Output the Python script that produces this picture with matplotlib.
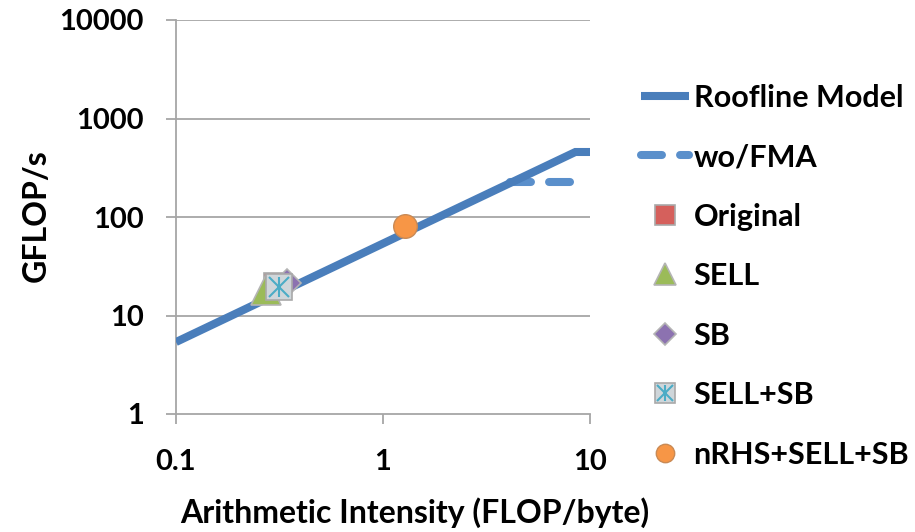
import matplotlib.pyplot as plt
from matplotlib.legend_handler import HandlerTuple

plt.rcParams['font.family'] = ['Lato', 'DejaVu Sans']
plt.rcParams['font.weight'] = 'bold'

# roofline data
roof_x = [0.1, 8.5, 10]
roof_y = [5.38, 457, 457]
nofma_x = [4.11, 8.0]
nofma_y = [226, 226]

# measured kernels
names = ['Original', 'SELL', 'SB', 'SELL+SB', 'nRHS+SELL+SB']
ai = [0.307, 0.272, 0.343, 0.3145, 1.276]
gflops = [19.9, 18.2, 21.4, 19.5, 81]

xticks = [0.1, 1, 10]
xticklabels = ['0.1', '1', '10']
yticks = [1, 10, 100, 1000, 10000]
yticklabels = ['1', '10', '100', '1000', '10000']

fig = plt.figure(figsize=(9.15, 5.32), dpi=100)
ax = fig.add_axes([176 / 915, 118 / 532, 414 / 915, 394 / 532])

ax.set_xscale('log')
ax.set_yscale('log')
ax.set_xlim(0.1, 10)
ax.set_ylim(1, 10000)

grey = '#a6a6a6'
for v in yticks[1:]:
    ax.axhline(v, color=grey, lw=1.3, zorder=0)

line_roof, = ax.plot(roof_x, roof_y, color='#4a7ebb', lw=5.8, solid_capstyle='butt',
                     solid_joinstyle='miter', zorder=3, label='Roofline Model')
line_fma, = ax.plot(nofma_x, nofma_y, color='#5a8fcb', lw=5.8, dashes=(2.6, 2.25),
                    dash_capstyle='round', zorder=2, label='wo/FMA')

h_orig, = ax.plot(ai[0], gflops[0], 's', ms=19, mfc='#d5605c', mec='#a9a9a9', mew=1.2,
                  ls='none', zorder=4)
h_sell, = ax.plot(ai[1], gflops[1], '^', ms=21, mfc='#9bbb59', mec='#b4b4b4', mew=1.2,
                  ls='none', zorder=5)
h_sb, = ax.plot(ai[2], gflops[2], 'D', ms=14, mfc='#8c72b0', mec='#b4b4b4', mew=1.2,
                ls='none', zorder=5)
h_ss1, = ax.plot(ai[3], gflops[3], 's', ms=19, mfc='#cfd6da', mec='#a9a9a9', mew=1.2,
                 ls='none', zorder=6)
h_ss2, = ax.plot(ai[3], gflops[3], 'x', ms=15, mec='#4bacc6', mew=1.5,
                 ls='none', zorder=7)
h_ss3, = ax.plot(ai[3], gflops[3], '|', ms=15, mec='#4bacc6', mew=1.5,
                 ls='none', zorder=7)
h_nrhs, = ax.plot(ai[4], gflops[4], 'o', ms=17, mfc='#f79646', mec='#c98a55', mew=1.0,
                  ls='none', zorder=6)

for s in ['top', 'right']:
    ax.spines[s].set_visible(False)
for s in ['left', 'bottom']:
    ax.spines[s].set_color(grey)
    ax.spines[s].set_linewidth(1.3)

ax.set_xticks(xticks)
ax.set_xticklabels(xticklabels)
ax.set_yticks(yticks)
ax.set_yticklabels(yticklabels)
ax.minorticks_off()
ax.tick_params(axis='both', color=grey, width=1.3, length=7.2, labelsize=21, direction='out')
ax.tick_params(axis='x', pad=18)
ax.tick_params(axis='y', pad=16)

fig.text(0.04, 0.594, 'GFLOP/s', rotation=90, ha='center', va='center', fontsize=23,
         fontweight='bold')
fig.text(0.4536, 0.036, 'Arithmetic Intensity (FLOP/byte)', ha='center', va='center',
         fontsize=23, fontweight='bold')

handles = [line_roof, line_fma, h_orig, h_sell, h_sb, (h_ss1, h_ss2, h_ss3), h_nrhs]
labels = ['Roofline Model', 'wo/FMA'] + names
leg = fig.legend(handles, labels, loc='center left', bbox_to_anchor=(0.6872, 0.481),
                 frameon=False, fontsize=22, handlelength=1.57, handletextpad=0.15,
                 labelspacing=1.03, borderaxespad=0, markerscale=0.78,
                 handler_map={tuple: HandlerTuple(ndivide=1, pad=0)})

fig.savefig('out.png', dpi=100)
